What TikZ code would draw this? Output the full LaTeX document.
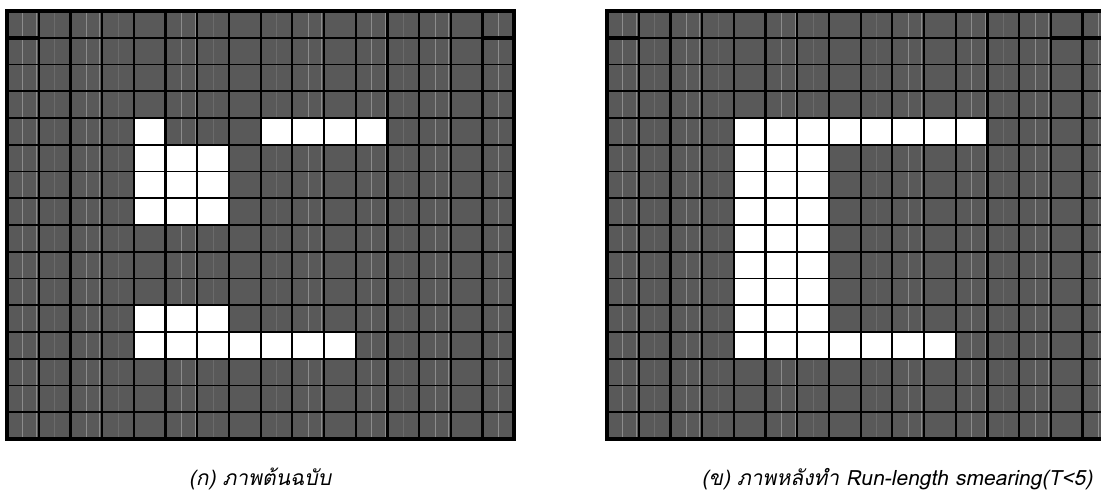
\documentclass[tikz,border=0pt]{standalone}
\usepackage{fontspec}
\newfontfamily\thaifont[Script=Thai,AutoFakeSlant=0.2]{Loma}

\begin{document}
\begin{tikzpicture}[
  x=1pt, y=-1pt,
  pixoff/.style={fill=black!65},
  pixon/.style={fill=white},
  texline/.style={draw=black!45, line width=0.8pt},
  texfaint/.style={draw=black!58, line width=0.8pt},
  vline/.style={draw=black, line width=2.2pt},
  hline/.style={draw=black, line width=1.8pt},
  frame/.style={draw=black, line width=4pt},
  capt/.style={font=\thaifont\itshape\fontsize{21}{24}\selectfont, inner sep=0pt}
]
\useasboundingbox (0,0) rectangle (1101,498);
\clip (0,0) rectangle (1101,498);

% original image
\begin{scope}[shift={(7,11)}, x=31.7pt, y=-26.75pt]
  \fill[pixoff] (0,0) rectangle (16,16);
  \foreach \c in {1,3,6,8,12}
    \draw[texfaint] (\c+0.5,0) -- (\c+0.5,16);
  \foreach \c in {0,2,5,9,11,13,15}
    \draw[texline] (\c+0.5,0) -- (\c+0.5,16) (\c+0.93,0) -- (\c+0.93,16);
  \foreach \c/\r in {4/4, 8/4, 9/4, 10/4, 11/4,
                     4/5, 5/5, 6/5, 4/6, 5/6, 6/6, 4/7, 5/7, 6/7,
                     4/11, 5/11, 6/11,
                     4/12, 5/12, 6/12, 7/12, 8/12, 9/12, 10/12}
    \fill[pixon] (\c,\r) rectangle ++(1,1);
  \foreach \c in {1,...,15}
    \draw[vline] (\c,0) -- (\c,16);
  \foreach \r in {1,...,15}
    \draw[hline] (0,\r) -- (16,\r);
  \draw[line width=3.5pt] (0,1) -- (1,1) (15,1) -- (16,1);
  \draw[frame] (0,0) rectangle (16,16);
\end{scope}

% after smearing
\begin{scope}[shift={(607,11)}, x=31.7pt, y=-26.75pt]
  \fill[pixoff] (0,0) rectangle (16,16);
  \foreach \c in {1,3,6,8,12}
    \draw[texfaint] (\c+0.5,0) -- (\c+0.5,16);
  \foreach \c in {0,2,5,9,11,13,15}
    \draw[texline] (\c+0.5,0) -- (\c+0.5,16) (\c+0.93,0) -- (\c+0.93,16);
  \foreach \c in {4,...,11}
    \fill[pixon] (\c,4) rectangle ++(1,1);
  \foreach \r in {5,...,11}
    \foreach \c in {4,5,6}
      \fill[pixon] (\c,\r) rectangle ++(1,1);
  \foreach \c in {4,...,10}
    \fill[pixon] (\c,12) rectangle ++(1,1);
  \foreach \c in {1,...,15}
    \draw[vline] (\c,0) -- (\c,16);
  \foreach \r in {1,...,15}
    \draw[hline] (0,\r) -- (16,\r);
  \draw[line width=3.5pt] (0,1) -- (1,1) (14,1) -- (16,1);
  \draw[frame] (0,0) rectangle (16,16);
\end{scope}

\node[capt] (cap-a) at (260,479) {(ก) ภาพต้นฉบับ};
\node[capt] (cap-b) at (897,479) {(ข) ภาพหลังทำ Run-length smearing(T<5)};
\end{tikzpicture}
\end{document}
